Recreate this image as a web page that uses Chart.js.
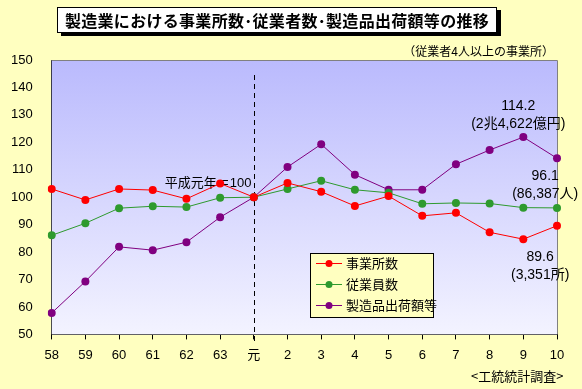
<!DOCTYPE html>
<html>
<head>
<meta charset="utf-8">
<script src="https://cdn.jsdelivr.net/npm/chart.js@4"></script>
<style>
  body { margin: 0; background: #ffffc0; }
  #wrap { position: relative; width: 582px; height: 389px; background: #ffffc0; }
  #title {
    position: absolute; left: 57px; top: 7px; width: 438px; height: 24px;
    border: 1px solid #000; background: #fff; box-shadow: 4px 3px 0 #000;
    font: bold 16px "Noto Sans CJK JP", sans-serif; line-height: 24px; text-align: center;
    letter-spacing: 0.3px;
  }
  .note { position: absolute; font: 12px "Noto Sans CJK JP", sans-serif; color: #000; white-space: nowrap; }
</style>
</head>
<body>
<div id="wrap">
  <canvas id="chart" width="582" height="389"></canvas>
  <div id="title">製造業における事業所数･従業者数･製造品出荷額等の推移</div>
  <div class="note" style="right:28px; top:42px;">（従業者4人以上の事業所）</div>
  <div class="note" style="left:471px; top:366px; font-size:13px;">&lt;工統統計調査&gt;</div>
</div>
<script>
// years (昭和58 - 平成10)
const years = ['58', '59', '60', '61', '62', '63', '元', '2', '3', '4', '5', '6', '7', '8', '9', '10'];
const yTicks = [50, 150, 10];

// index values, 平成元年 = 100
const establishments = [103.0, 99.0, 103.0, 102.6, 99.4, 105.0, 100.0, 105.2, 102.0, 96.8, 100.4, 93.2, 94.3, 87.2, 84.7, 89.6];
const employees = [86.1, 90.5, 96.0, 96.7, 96.4, 99.8, 100.0, 103.0, 106.0, 102.7, 101.6, 97.6, 97.9, 97.7, 96.2, 96.1];
const shipments = [57.8, 69.3, 81.9, 80.7, 83.6, 92.7, 100.0, 111.0, 119.3, 108.2, 102.7, 102.7, 112.0, 117.2, 121.9, 114.2];

const seriesNames = ['事業所数', '従業員数', '製造品出荷額等'];
const seriesColors = ['#ff0000', '#2e9a2e', '#800080'];

const font = '"Liberation Sans", "Noto Sans CJK JP", sans-serif';

function makeSet(i, data) {
  return {
    label: seriesNames[i],
    data: data,
    borderColor: seriesColors[i],
    backgroundColor: seriesColors[i],
    borderWidth: 1,
    pointRadius: 4,
    pointHoverRadius: 4,
    pointBorderWidth: 0,
    tension: 0
  };
}

// plot background, frame, dashed base-year line, notes and legend
const decor = {
  id: 'decor',
  beforeDatasetsDraw(chart) {
    const { ctx, chartArea: a, scales } = chart;
    ctx.save();
    const g = ctx.createLinearGradient(0, a.top, 0, a.bottom);
    g.addColorStop(0, '#babafd');
    g.addColorStop(1, '#f3f3ff');
    ctx.fillStyle = g;
    ctx.fillRect(a.left, a.top, a.right - a.left, a.bottom - a.top);
    ctx.strokeStyle = '#808080';
    ctx.lineWidth = 1;
    ctx.beginPath();
    ctx.moveTo(a.left, a.top + 0.5);
    ctx.lineTo(a.right + 0.5, a.top + 0.5);
    ctx.lineTo(a.right + 0.5, a.bottom);
    ctx.stroke();

    const x = Math.round(scales.x.getPixelForValue(6)) + 0.5;
    ctx.strokeStyle = '#000';
    ctx.setLineDash([5, 4]);
    ctx.beginPath();
    ctx.moveTo(x, a.top + 15);
    ctx.lineTo(x, a.bottom + 10);
    ctx.stroke();
    ctx.setLineDash([]);

    ctx.fillStyle = '#000';
    ctx.font = '13px ' + font;
    ctx.textAlign = 'right';
    ctx.textBaseline = 'middle';
    ctx.fillText('平成元年＝100', x - 3, scales.y.getPixelForValue(105.1));
    ctx.restore();
  },
  afterDatasetsDraw(chart) {
    const { ctx, scales } = chart;
    const last = years.length - 1;
    ctx.save();
    ctx.fillStyle = '#000';
    ctx.font = '14px ' + font;
    ctx.textAlign = 'center';
    ctx.textBaseline = 'middle';
    const notes = [
      [13.85, shipments[last] + 19.0, shipments[last].toFixed(1)],
      [13.85, shipments[last] + 12.4, '(2兆4,622億円)'],
      [14.65, employees[last] + 11.6, employees[last].toFixed(1)],
      [14.65, employees[last] + 5.0, '(86,387人)'],
      [14.5, establishments[last] - 11.5, establishments[last].toFixed(1)],
      [14.5, establishments[last] - 18.1, '(3,351所)']
    ];
    notes.forEach(n => ctx.fillText(n[2], scales.x.getPixelForValue(n[0]), scales.y.getPixelForValue(n[1])));

    // legend box
    const lx = 310, ly = 253, lw = 123, lh = 64;
    ctx.fillStyle = '#ffffc0';
    ctx.fillRect(lx, ly, lw, lh);
    ctx.strokeStyle = '#000';
    ctx.lineWidth = 1;
    ctx.strokeRect(lx + 0.5, ly + 0.5, lw, lh);
    ctx.textAlign = 'left';
    ctx.font = '13px ' + font;
    chart.data.datasets.forEach((ds, i) => {
      const y = ly + 10 + i * 21;
      ctx.strokeStyle = ds.borderColor;
      ctx.beginPath();
      ctx.moveTo(lx + 6, y + 0.5);
      ctx.lineTo(lx + 32, y + 0.5);
      ctx.stroke();
      ctx.fillStyle = ds.borderColor;
      ctx.beginPath();
      ctx.arc(lx + 19, y + 0.5, 3.5, 0, Math.PI * 2);
      ctx.fill();
      ctx.fillStyle = '#000';
      ctx.fillText(ds.label, lx + 36, y + 1);
    });
    ctx.restore();
  }
};

new Chart(document.getElementById('chart'), {
  type: 'line',
  data: {
    labels: years,
    datasets: [makeSet(0, establishments), makeSet(1, employees), makeSet(2, shipments)]
  },
  options: {
    responsive: false,
    animation: false,
    events: [],
    layout: { padding: { left: 0, top: 60, right: 25, bottom: 18 } },
    plugins: { legend: { display: false }, tooltip: { enabled: false } },
    scales: {
      x: {
        offset: false,
        border: { display: true, color: '#000', width: 1 },
        grid: { drawOnChartArea: false, drawTicks: true, tickLength: 5, color: '#000' },
        ticks: { color: '#000', font: { family: font, size: 13 }, padding: 8, autoSkip: false, maxRotation: 0 }
      },
      y: {
        min: yTicks[0],
        max: yTicks[1],
        border: { display: true, color: '#000', width: 1 },
        grid: { display: false },
        ticks: { stepSize: yTicks[2], color: '#000', font: { family: font, size: 13 }, padding: 11 }
      }
    }
  },
  plugins: [decor]
});
</script>
</body>
</html>
